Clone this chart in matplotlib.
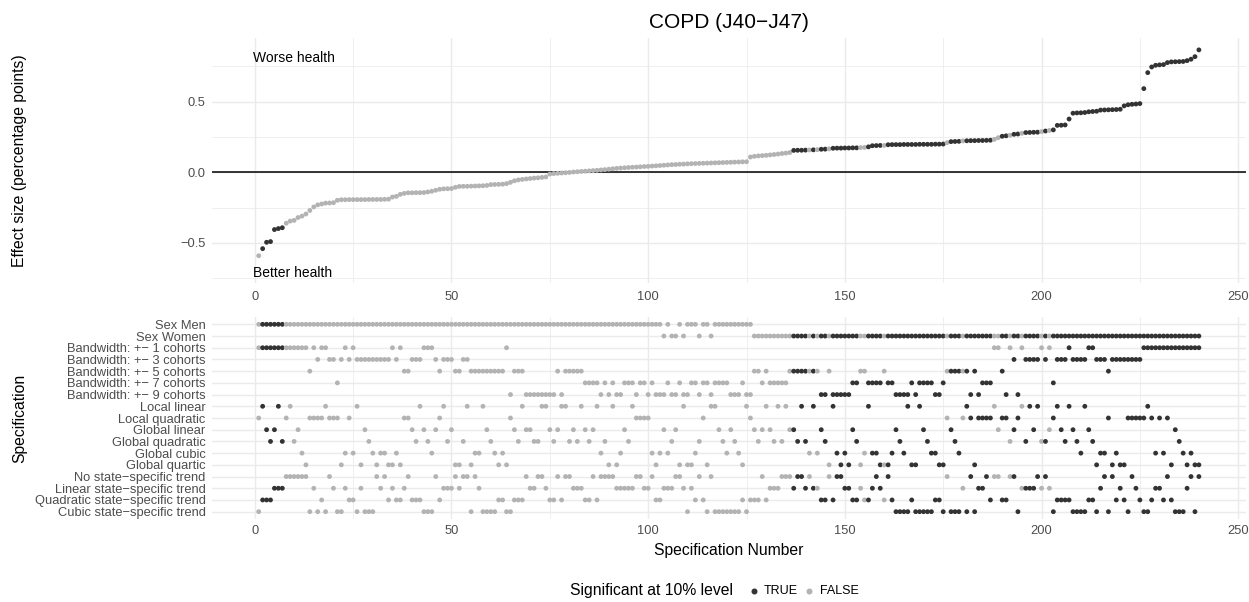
import matplotlib
matplotlib.use('Agg')
import matplotlib.pyplot as plt
from matplotlib.lines import Line2D
import numpy as np

plt.rcParams['font.family'] = ['Liberation Sans', 'DejaVu Sans']

# ---------------- data ----------------
effect = [
    -0.59, -0.54, -0.495, -0.49, -0.405, -0.398, -0.392, -0.36, -0.345, -0.34,
    -0.32, -0.31, -0.295, -0.27, -0.245, -0.23, -0.224, -0.218, -0.217, -0.215,
    -0.198, -0.194, -0.194, -0.193, -0.193, -0.193, -0.193, -0.193, -0.192, -0.192,
    -0.192, -0.192, -0.191, -0.19, -0.175, -0.17, -0.156, -0.149, -0.145, -0.145,
    -0.144, -0.144, -0.143, -0.139, -0.134, -0.127, -0.12, -0.117, -0.116, -0.115,
    -0.106, -0.1, -0.099, -0.099, -0.098, -0.097, -0.096, -0.095, -0.093, -0.087,
    -0.086, -0.085, -0.084, -0.08, -0.071, -0.06, -0.054, -0.05, -0.047, -0.044,
    -0.041, -0.039, -0.036, -0.033, -0.012, -0.009, -0.007, -0.005, -0.003, -0.001,
    0.002, 0.004, 0.006, 0.008, 0.01, 0.012, 0.014, 0.017, 0.019, 0.022,
    0.025, 0.028, 0.03, 0.032, 0.034, 0.036, 0.037, 0.039, 0.041, 0.042,
    0.044, 0.046, 0.048, 0.05, 0.052, 0.054, 0.055, 0.057, 0.058, 0.06,
    0.061, 0.062, 0.063, 0.064, 0.065, 0.066, 0.067, 0.068, 0.069, 0.07,
    0.071, 0.072, 0.073, 0.074, 0.075, 0.108, 0.113, 0.116, 0.118, 0.12,
    0.123, 0.126, 0.129, 0.133, 0.136, 0.14, 0.155, 0.156, 0.156, 0.157,
    0.158, 0.159, 0.16, 0.163, 0.164, 0.166, 0.17, 0.171, 0.171, 0.172,
    0.172, 0.173, 0.173, 0.175, 0.176, 0.18, 0.188, 0.189, 0.19, 0.19,
    0.195, 0.196, 0.196, 0.196, 0.197, 0.197, 0.197, 0.197, 0.198, 0.198,
    0.198, 0.198, 0.199, 0.199, 0.2, 0.21, 0.217, 0.218, 0.219, 0.222,
    0.223, 0.224, 0.224, 0.225, 0.225, 0.226, 0.227, 0.233, 0.245, 0.255,
    0.258, 0.262, 0.269, 0.271, 0.276, 0.281, 0.282, 0.283, 0.284, 0.288,
    0.292, 0.296, 0.30, 0.332, 0.333, 0.335, 0.377, 0.418, 0.42, 0.421,
    0.423, 0.428, 0.43, 0.432, 0.44, 0.441, 0.442, 0.443, 0.444, 0.446,
    0.47, 0.478, 0.481, 0.483, 0.486, 0.592, 0.705, 0.745, 0.757, 0.76,
    0.762, 0.776, 0.781, 0.782, 0.783, 0.784, 0.79, 0.80, 0.818, 0.866,
]

# T = significant at 10% level
significant = (
    "FTTTTTTFFFFFFFFFFFFF" "FFFFFFFFFFFFFFFFFFFF" "FFFFFFFFFFFFFFFFFFFF"
    "FFFFFFFFFFFFFFFFFFFF" "FFFFFFFFFFFFFFFFFFFF" "FFFFFFFFFFFFFFFFFFFF"
    "FFFFFFFFFFFFFFFFTTTT" "FTFTTFTTTTTTTFFTTTTF" "TTTTTTTTTTTTTTTFTTTF"
    "TTTTTTTFFTTFTTFTTTTF" "TFTTTTTTTTTTTTTTTTTT" "TTTTTTTTTTTTTTTTTTTT"
)

# M = men, W = women
sex = (
    "MMMMMMMMMMMMMMMMMMMM" "MMMMMMMMMMMMMMMMMMMM" "MMMMMMMMMMMMMMMMMMMM"
    "MMMMMMMMMMMMMMMMMMMM" "MMMMMMMMMMMMMMMMMMMM" "MMMWMWWMWMMMWMMWMMMM"
    "MMMMMMWWWWWWWWWWWWWW" "WWWWWWWWWWWWWWWWWWWW" "WWWWWWWWWWWWWWWWWWWW"
    "WWWWWWWWWWWWWWWWWWWW" "WWWWWWWWWWWWWWWWWWWW" "WWWWWWWWWWWWWWWWWWWW"
)

# bandwidth in cohorts (+-1, 3, 5, 7, 9)
bandwidth = (
    "11111111111115131133" "73131333333333131553" "33111353335533555555"
    "55519555999999995955" "55577779797997779779" "79997997997797797777"
    "99979955757777755555" "55599599999775577775" "77999979777799755555"
    "59597771159139133331" "31733313333113335333" "33333111111111111111"
)

# a local linear, b local quadratic, c global linear,
# d global quadratic, e global cubic, f global quartic
polynomial = (
    "bacdcadbadcefbbbbabb" "bfebeafcdefeeffefbbc" "dacdecbadcffdafeeacd"
    "efefbcdaccddaacdcaad" "cdacdcaedfafecdabbbb" "efecedcfaffedbfaacde"
    "cdefabcdcacdadaccdad" "eaecdfaefefcdfeaeeff" "fecdeaffacdeeffbcdeb"
    "abfbbbbacbbdcbadacad" "dcbacdacdeacdfeebfef" "fbbbbbabebebfcdefeff"
)

# N none, L linear, Q quadratic, C cubic state-specific trend
trend = (
    "CQQQLLLNNNNNNCLCQCNL" "CCLQQCLCCCNLNQLQQLNQ" "QQCCCNQLLLNLNNCNLCCC"
    "CQQCCQQQNLLNNLQQNQNN" "LLLQQNQNNNNLLLLLNNLL" "NQQLLLNNLCLQNQCNCCCC"
    "CCCQCQQQNQLLLNNNLNNL" "NLLQQNQNNLLQQLQQLNLQ" "NQCCCCQCCCCCQQCNCCCL"
    "CNCLLNQNNQQNNCLLLLNL" "NLCQQQQCCCCQQCLNCNQL" "QCNLQCCQLLQNQCCCLNCN"
)

row_labels = [
    "Sex Men", "Sex Women",
    "Bandwidth: +\u2212 1 cohorts", "Bandwidth: +\u2212 3 cohorts",
    "Bandwidth: +\u2212 5 cohorts", "Bandwidth: +\u2212 7 cohorts",
    "Bandwidth: +\u2212 9 cohorts",
    "Local linear", "Local quadratic", "Global linear", "Global quadratic",
    "Global cubic", "Global quartic",
    "No state\u2212specific trend", "Linear state\u2212specific trend",
    "Quadratic state\u2212specific trend", "Cubic state\u2212specific trend",
]
sex_codes = "MW"
bandwidth_codes = "13579"
polynomial_codes = "abcdef"
trend_codes = "NLQC"

x_ticks = [0, 50, 100, 150, 200, 250]
y_ticks = [-0.5, 0.0, 0.5]

# ---------------- figure ----------------
W, H = 1249, 602
fig = plt.figure(figsize=(W / 100, H / 100), dpi=100)


def rect(l, t, r, b):
    return [l / W, 1 - b / H, (r - l) / W, (b - t) / H]


DARK = '#333333'
LIGHT = '#B3B3B3'
GRID = '#EBEBEB'
TICKC = '#4D4D4D'

n = len(effect)
spec = np.arange(1, n + 1)
sig = np.array([c == 'T' for c in significant])
colors = np.where(sig, DARK, LIGHT)

ax1 = fig.add_axes(rect(211.7, 38, 1245.9, 283))
ax2 = fig.add_axes(rect(211.7, 317.3, 1245.9, 518.7))

for ax in (ax1, ax2):
    for s in ax.spines.values():
        s.set_visible(False)
    ax.set_xlim(-10.95, 251.95)
    ax.set_xticks(x_ticks)
    ax.set_xticks([25, 75, 125, 175, 225], minor=True)
    ax.tick_params(which='both', length=0, colors=TICKC, labelsize=9.3)
    ax.grid(which='major', color=GRID, linewidth=1.07)
    ax.set_axisbelow(True)

ax1.grid(which='minor', color=GRID, linewidth=0.55)
ax2.grid(which='minor', axis='x', color=GRID, linewidth=0.55)

# upper panel
ax1.set_ylim(-0.783, 0.95)
ax1.set_yticks(y_ticks)
ax1.set_yticklabels(["\u22120.5", "0.0", "0.5"])
ax1.set_yticks([-0.75, -0.25, 0.25, 0.75], minor=True)
ax1.tick_params(axis='x', pad=5.5)
ax1.tick_params(axis='y', pad=4.5)
ax1.axhline(0, color='black', linewidth=1.1, zorder=2)
ax1.scatter(spec, effect, c=colors, s=12, linewidths=0, zorder=3)
ax1.text(-0.5, 0.805, "Worse health", ha='left', va='center', fontsize=10, color='black')
ax1.text(-0.5, -0.71, "Better health", ha='left', va='center', fontsize=10, color='black')
ax1.set_title("COPD (J40\u2212J47)", fontsize=15, pad=7)

# lower panel
groups = [(sex, sex_codes, 0), (bandwidth, bandwidth_codes, 2),
          (polynomial, polynomial_codes, 7), (trend, trend_codes, 13)]
for values, codes, offset in groups:
    ypos = np.array([offset + codes.index(v) for v in values])
    ax2.scatter(spec, ypos, c=colors, s=12, linewidths=0, zorder=3)

ax2.set_ylim(len(row_labels) - 1 + 0.6, -0.6)
ax2.set_yticks(range(len(row_labels)))
ax2.set_yticklabels(row_labels)
ax2.tick_params(axis='x', pad=4.5)
ax2.tick_params(axis='y', pad=4.5)
ax2.set_xlabel("Specification Number", fontsize=11.3, labelpad=4)

# y axis titles aligned at the same x
fig.text(20 / W, 1 - 418 / H, "Specification", rotation=90, ha='center', va='center', fontsize=11.3)
fig.text(20 / W, 1 - 160.5 / H, "Effect size (percentage points)", rotation=90,
         ha='center', va='center', fontsize=11.3)

# legend
fig.text(570 / W, 1 - 591 / H, "Significant at 10% level", ha='left', va='center', fontsize=11.3)
fig.add_artist(Line2D([754 / W], [1 - 591 / H], marker='o', color=DARK, markersize=3.3,
                      linestyle='none', transform=fig.transFigure))
fig.text(764 / W, 1 - 591 / H, "TRUE", ha='left', va='center', fontsize=9.0, color='black')
fig.add_artist(Line2D([809 / W], [1 - 591 / H], marker='o', color=LIGHT, markersize=3.3,
                      linestyle='none', transform=fig.transFigure))
fig.text(820 / W, 1 - 591 / H, "FALSE", ha='left', va='center', fontsize=9.0, color='black')

fig.savefig("out.png", dpi=100, facecolor='white')
